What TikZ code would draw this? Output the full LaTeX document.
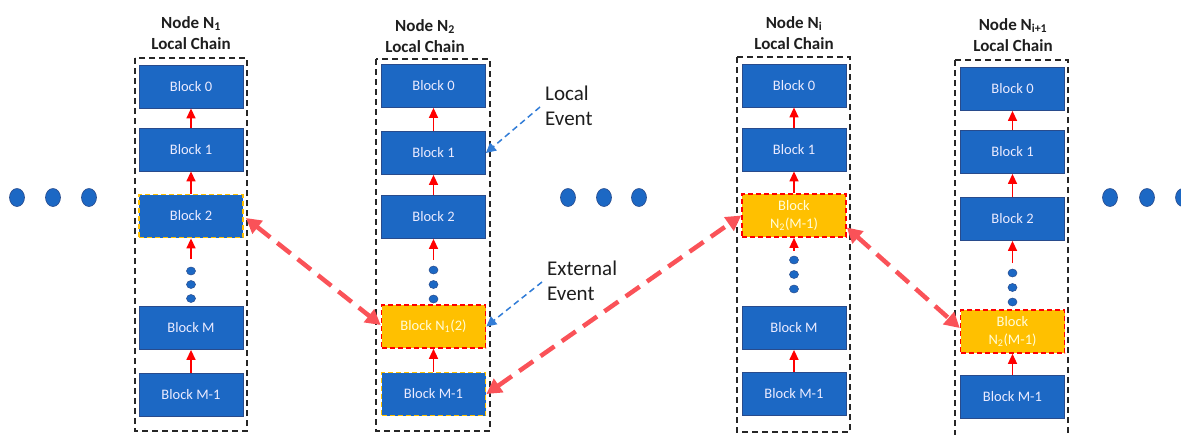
\documentclass[tikz,border=0pt]{standalone}
\usepackage{fontspec}
\setmainfont{Carlito}
\usetikzlibrary{arrows.meta,shapes.geometric}
\definecolor{blk}{RGB}{28,104,196}
\definecolor{blkedge}{RGB}{40,75,140}
\definecolor{org}{RGB}{255,192,0}
\definecolor{redarr}{RGB}{250,82,88}
\definecolor{bluearr}{RGB}{50,125,215}
\definecolor{txt}{RGB}{30,30,30}
\tikzset{
  blockbox/.style={rectangle, minimum width=104pt, minimum height=43pt, inner sep=0pt,
    fill=blk, draw=blkedge, line width=0.8pt, text=white!92!blue, font=\fontsize{14.5}{16}\selectfont, align=center},
  orgedge/.style={draw=org, dashed, dash pattern=on 5pt off 3pt, line width=1.8pt},
  orgblock/.style={blockbox, fill=org, draw=red, dashed, dash pattern=on 5pt off 3pt, line width=1.6pt, text=white!85!yellow},
  chainbox/.style={draw=black!85, dash pattern=on 6pt off 4pt, line width=1.8pt},
  title/.style={font=\bfseries\fontsize{17}{21}\selectfont, align=center, text=txt},
  uparr/.style={draw=red, line width=1.4pt, -{Triangle[length=10pt,width=9pt]}},
  bigarr/.style={draw=redarr, line width=4.5pt, dash pattern=on 17pt off 9pt,
    {Triangle[length=15pt,width=16pt]}-{Triangle[length=15pt,width=16pt]}},
  evarr/.style={draw=bluearr, line width=1.5pt, dash pattern=on 6pt off 4pt, -{Triangle[length=10pt,width=10pt]}},
  evtext/.style={font=\fontsize{21}{25}\selectfont, align=left, text=txt, anchor=west, inner sep=0pt},
  sdot/.style={ellipse, minimum width=15pt, minimum height=18pt, inner sep=0pt, fill=blk, draw=blkedge, line width=0.6pt},
  cdot/.style={ellipse, minimum width=9pt, minimum height=8pt, inner sep=0pt, fill=blk, draw=blkedge, line width=0.5pt}
}
\begin{document}
\begin{tikzpicture}[x=1pt,y=-1pt]
\useasboundingbox (0,0) rectangle (1181,434);
% side dots
\foreach \n/\x in {l1/17,l2/53,l3/89,m1/568,m2/604,m3/639,r1/1110,r2/1147,r3/1183}
  \node[sdot] (\n) at (\x,197.5) {};
% chain boxes
\draw[chainbox] (135,58) rectangle (247,431);
\draw[chainbox] (376,59) rectangle (490,431);
\draw[chainbox] (737,57) rectangle (850,432);
\draw[chainbox] (955,60) rectangle (1068,440);
% titles
\node[title] (t1) at (191,33) {Node N\textsubscript{1}\\Local Chain};
\node[title] (t2) at (425,36) {Node N\textsubscript{2}\\Local Chain};
\node[title] (t3) at (794,33) {Node N\textsubscript{i}\\Local Chain};
\node[title] (t4) at (1013,35) {Node N\textsubscript{i+1}\\Local Chain};
% column 1
\node[blockbox] (a0) at (191,86.5) {Block 0};
\node[blockbox] (a1) at (191,149.5) {Block 1};
\node[blockbox, orgedge] (a2) at (191,216) {Block 2};
\node[blockbox] (am) at (191,328) {Block M};
\node[blockbox] (am1) at (191,394.5) {Block M-1};
\coordinate (ac) at (191,259);
\foreach \n/\y in {ad1/271,ad2/284.5,ad3/298.5} \node[cdot] (\n) at (191,\y) {};
\draw[uparr] (a1.north) -- (a0.south);
\draw[uparr] (a2.north) -- (a1.south);
\draw[uparr] (ac) -- (a2.south);
\draw[uparr] (am1.north) -- (am.south);
% column 2
\node[blockbox] (b0) at (433.5,86) {Block 0};
\node[blockbox] (b1) at (433.5,153) {Block 1};
\node[blockbox] (b2) at (433.5,217) {Block 2};
\node[orgblock] (bn) at (433.5,326.5) {Block N\textsubscript{1}(2)};
\node[blockbox, orgedge] (bm1) at (433.5,394) {Block M-1};
\coordinate (bc) at (433.5,260);
\foreach \n/\y in {bd1/270,bd2/284.5,bd3/299} \node[cdot] (\n) at (433.5,\y) {};
\draw[uparr] (b1.north) -- (b0.south);
\draw[uparr] (b2.north) -- (b1.south);
\draw[uparr] (bc) -- (b2.south);
\draw[uparr] (bm1.north) -- (bn.south);
% column 3
\node[blockbox] (c0) at (794,85.5) {Block 0};
\node[blockbox] (c1) at (794,149.5) {Block 1};
\node[orgblock, font=\fontsize{14.5}{18}\selectfont] (cn) at (794,215.5) {Block\\N\textsubscript{2}(M-1)};
\node[blockbox] (cm) at (794,328) {Block M};
\node[blockbox] (cm1) at (794,393.5) {Block M-1};
\coordinate (cc) at (794,251);
\foreach \n/\y in {cd1/260,cd2/274.5,cd3/289} \node[cdot] (\n) at (794,\y) {};
\draw[uparr] (c1.north) -- (c0.south);
\draw[uparr] (cn.north) -- (c1.south);
\draw[uparr] (cc) -- (cn.south);
\draw[uparr] (cm1.north) -- (cm.south);
% column 4
\node[blockbox] (d0) at (1012.5,89) {Block 0};
\node[blockbox] (d1) at (1012.5,152) {Block 1};
\node[blockbox] (d2) at (1012.5,219) {Block 2};
\node[orgblock, font=\fontsize{14.5}{18}\selectfont] (dn) at (1012.5,331.5) {Block\\N\textsubscript{2}(M-1)};
\node[blockbox] (dm1) at (1012.5,396.5) {Block M-1};
\coordinate (dc) at (1012.5,263);
\foreach \n/\y in {dd1/273,dd2/287.5,dd3/302} \node[cdot] (\n) at (1012.5,\y) {};
\draw[uparr] (d1.north) -- (d0.south);
\draw[uparr] (d2.north) -- (d1.south);
\draw[uparr] (dc) -- (d2.south);
\draw[uparr] (dm1.north) -- (dn.south);
% event labels
\node[evtext] (le) at (545,106) {Local\\Event};
\node[evtext] (ee) at (547,281) {External\\Event};
\coordinate (les) at (540,107);
\coordinate (ees) at (542,282);
\draw[evarr] (les) -- (b1.east);
\draw[evarr] (ees) -- (bn.east);
% cross-chain arrows
\draw[bigarr] ([xshift=2pt,yshift=-2pt]a2.east) -- ([yshift=1.5pt]bn.west);
\draw[bigarr] (bm1.east) -- (cn.west);
\draw[bigarr] ([yshift=-12pt]cn.east) -- ([yshift=3.5pt]dn.west);
\end{tikzpicture}
\end{document}
